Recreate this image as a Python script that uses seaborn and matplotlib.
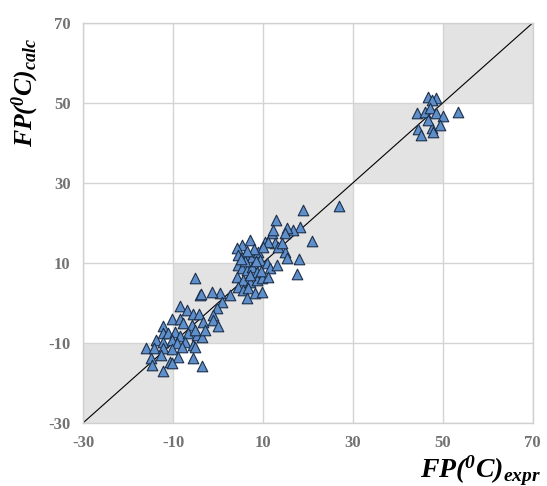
import numpy as np
import pandas as pd
import seaborn as sns
import matplotlib.pyplot as plt

fp_expr = [
    # upper cluster
    46.7, 48.4, 47.6, 44.2, 46.0, 47.1, 48.4, 50.0, 53.3, 44.4, 45.1, 47.6, 47.8, 49.3, 46.7,
    # middle cluster
    26.9, 18.9, 12.9, 20.9, 18.0, 17.6, 18.2, 16.7, 15.3, 14.9, 12.0, 12.7, 10.4, 7.1, 5.3,
    4.2, 4.4, 6.0, 7.6, 8.9, 9.3, 10.9, 11.6, 13.1, 14.9, 15.3, 13.3, 14.2, 4.4, 5.3,
    6.4, 7.6, 8.7, 4.2, 5.6, 7.1, 8.7, 9.8, 11.1, 4.4, 5.6, 6.7, 8.2, 9.8, 6.4,
    2.7, 0.4, -1.3, -4.0, -5.1, 0.9, -0.2, -1.1, 11.1, 12.2, -3.8, 6.0, 8.0, 9.5, 5.0,
    7.0, 6.5, 8.5, 10.0,
    # lower cluster
    -8.4, -6.9, -5.6, -4.2, -12.2, -10.2, -8.4, -7.8, -5.8, -3.3, -1.1, 0.0, -12.2, -11.1, -9.6,
    -8.4, -6.7, -4.7, -3.6, -5.1, -2.9, -13.8, -12.2, -10.2, -9.1, -7.3, -5.6, -16.0, -14.2, -12.2,
    -10.2, -8.0, -5.1, -14.9, -12.7, -10.7, -8.9, -5.6, -14.7, -10.2, -3.6, -12.2,
]
fp_calc = [
    51.5, 51.2, 50.7, 47.5, 47.8, 48.8, 47.5, 46.8, 47.8, 43.5, 42.0, 43.8, 42.8, 44.5, 45.8,
    24.2, 23.2, 20.8, 15.5, 11.0, 7.2, 19.0, 18.2, 18.8, 17.5, 17.5, 15.0, 15.2, 15.8, 14.5,
    13.8, 12.0, 12.0, 11.5, 12.8, 10.8, 10.0, 8.8, 9.5, 12.8, 11.2, 14.0, 15.0, 9.5, 8.8,
    8.2, 9.0, 7.8, 6.5, 5.8, 5.2, 5.8, 6.2, 6.5, 4.0, 3.2, 3.8, 2.5, 2.8, 1.2,
    2.0, 2.5, 2.8, 2.0, 6.2, 0.2, -1.2, -3.0, 15.2, 18.2, 2.2, 10.5, 13.5, 8.0, 11.0,
    7.0, 13.0, 10.5, 14.0,
    -0.8, -1.8, -2.8, -2.8, -5.8, -4.0, -4.0, -5.0, -5.5, -4.8, -4.2, -5.8, -7.5, -7.5, -7.2,
    -8.2, -7.5, -8.0, -8.5, -6.8, -6.8, -9.2, -9.8, -9.2, -10.0, -9.8, -10.5, -11.2, -11.2, -11.2,
    -11.5, -11.0, -11.0, -13.8, -13.0, -14.8, -13.5, -13.8, -15.5, -15.0, -15.8, -17.0,
]

bands = [-30, -10, 10, 30, 50, 70]
ticks = [-30, -10, 10, 30, 50, 70]

df = pd.DataFrame({"expr": fp_expr, "calc": fp_calc})

sns.set_style("white")
plt.rcParams["font.family"] = ["Liberation Serif", "DejaVu Serif"]
plt.rcParams["axes.unicode_minus"] = False
plt.rcParams["mathtext.fontset"] = "custom"
plt.rcParams["mathtext.bf"] = "Liberation Serif:bold:italic"
plt.rcParams["mathtext.rm"] = "Liberation Serif:bold:italic"
plt.rcParams["mathtext.it"] = "Liberation Serif:bold:italic"

fig = plt.figure(figsize=(5.47, 4.86), dpi=100)
ax = fig.add_axes([0.152, 0.130, 0.822, 0.823])

# shaded diagonal squares
for lo, hi in zip(bands[:-1], bands[1:]):
    ax.fill_between([lo, hi], lo, hi, color="#e3e3e3", lw=0, zorder=0)

ax.plot([bands[0], bands[-1]], [bands[0], bands[-1]], color="black", lw=0.8, zorder=2)

sns.scatterplot(data=df, x="expr", y="calc", marker="^", s=58,
                color="#5f8fca", edgecolor="#1c2f4a", linewidth=0.8, ax=ax, zorder=3)

ax.set_xlim(-30, 70)
ax.set_ylim(-30, 70)
ax.set_xticks(ticks)
ax.set_yticks(ticks)
ax.grid(True, color="#d4d4d4", lw=1, zorder=1)
ax.set_axisbelow(True)
for sp in ax.spines.values():
    sp.set_color("#d0d0d0")
    sp.set_linewidth(1)
ax.tick_params(length=0, pad=9, labelsize=12, labelcolor="#727272")
for lab in ax.get_xticklabels() + ax.get_yticklabels():
    lab.set_fontweight("bold")
ax.set_xlabel("")
ax.set_ylabel("")

fig.text(0.878, 0.032, r"$FP(^0C)_{expr}$", fontsize=20, ha="center", va="center",
         color="black")
fig.text(0.046, 0.81, r"$FP(^0C)_{calc}$", fontsize=18.5, ha="center", va="center",
         rotation=90, color="black")

fig.savefig("out.png", dpi=100)
